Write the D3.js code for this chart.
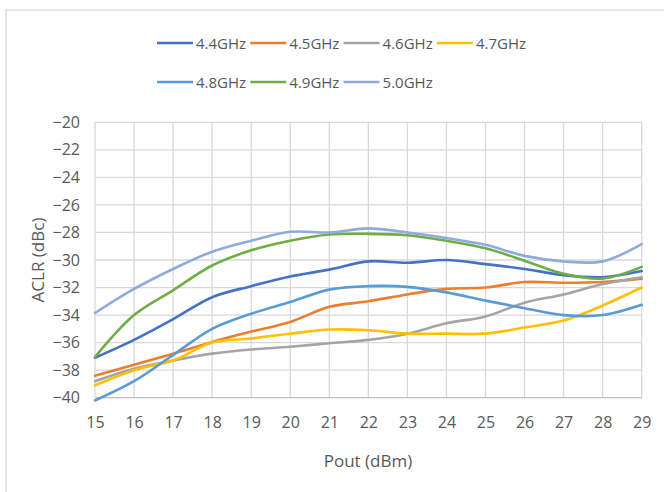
<!DOCTYPE html>
<html><head><meta charset="utf-8">
<script src="https://cdn.jsdelivr.net/npm/d3@7"></script>
<style>
html,body{margin:0;padding:0;background:#fff;}
svg{display:block;}
text{font-family:"Liberation Sans Narrow","Open Sans",sans-serif;fill:#595959;}
</style></head>
<body>
<script>
const pout = [15,16,17,18,19,20,21,22,23,24,25,26,27,28,29];
const seriesNames = ["4.4GHz","4.5GHz","4.6GHz","4.7GHz","4.8GHz","4.9GHz","5.0GHz"];
const seriesColors = ["#4472C4","#ED7D31","#A5A5A5","#FFC000","#5B9BD5","#70AD47","#8FAADC"];
const f44 = [-37.1,-35.8,-34.3,-32.7,-31.9,-31.2,-30.7,-30.1,-30.2,-30.0,-30.3,-30.65,-31.1,-31.25,-30.8];
const f45 = [-38.4,-37.6,-36.8,-35.95,-35.2,-34.5,-33.4,-33.0,-32.5,-32.1,-32.0,-31.6,-31.65,-31.6,-31.35];
const f46 = [-38.8,-37.9,-37.3,-36.8,-36.5,-36.3,-36.05,-35.8,-35.35,-34.6,-34.1,-33.1,-32.5,-31.75,-31.25];
const f47 = [-39.1,-38.0,-37.3,-36.0,-35.7,-35.35,-35.05,-35.1,-35.35,-35.35,-35.35,-34.9,-34.4,-33.3,-32.0];
const f48 = [-40.2,-38.8,-36.9,-35.0,-33.9,-33.05,-32.15,-31.9,-31.95,-32.35,-32.95,-33.5,-34.0,-34.0,-33.25];
const f49 = [-37.05,-34.0,-32.2,-30.4,-29.3,-28.6,-28.15,-28.1,-28.2,-28.6,-29.15,-30.05,-31.0,-31.35,-30.5];
const f50 = [-33.85,-32.1,-30.65,-29.4,-28.6,-27.95,-28.0,-27.7,-28.0,-28.4,-28.9,-29.7,-30.1,-30.1,-28.85];
const seriesValues = [f44,f45,f46,f47,f48,f49,f50];
const xTicks = pout;
const yTicks = [-40,-38,-36,-34,-32,-30,-28,-26,-24,-22,-20];

const W = 664, H = 492;
const svg = d3.select("body").append("svg").attr("width", W).attr("height", H);

// outer chart border
svg.append("rect").attr("x",6).attr("y",10).attr("width",W+10).attr("height",H+10)
  .attr("fill","#fff").attr("stroke","#d9d9d9").attr("stroke-width",1.3);

const x = d3.scaleLinear().domain([15,29]).range([95,641.7]);
const y = d3.scaleLinear().domain([-40,-20]).range([397.7,122.3]);

// gridlines
const g = svg.append("g");
g.selectAll("line.v").data(xTicks).join("line")
  .attr("x1",d=>x(d)).attr("x2",d=>x(d)).attr("y1",y(-20)).attr("y2",y(-40))
  .attr("stroke","#d9d9d9").attr("stroke-width",1.3);
g.selectAll("line.h").data(yTicks).join("line")
  .attr("x1",x(15)).attr("x2",x(29)).attr("y1",d=>y(d)).attr("y2",d=>y(d))
  .attr("stroke",d=>d===-40?"#bfbfbf":"#d9d9d9").attr("stroke-width",1.3);

// axes labels via d3 axes
const xAxis = svg.append("g").attr("transform",`translate(0,${y(-40)})`)
  .call(d3.axisBottom(x).tickValues(xTicks).tickSize(0).tickPadding(19).tickFormat(d3.format("d")));
xAxis.select(".domain").remove();
xAxis.selectAll("text").style("font-size","16px").attr("fill","#595959")
  .style("font-family",'"Liberation Sans Narrow","Open Sans",sans-serif');

const yAxis = svg.append("g").attr("transform",`translate(${x(15)},0)`)
  .call(d3.axisLeft(y).tickValues(yTicks).tickSize(0).tickPadding(15).tickFormat(d3.format("d")));
yAxis.select(".domain").remove();
yAxis.selectAll("text").style("font-size","16px").attr("fill","#595959")
  .style("font-family",'"Liberation Sans Narrow","Open Sans",sans-serif');

// axis titles
svg.append("text").attr("x",368).attr("y",467).attr("text-anchor","middle")
  .style("font-size","17px").text("Pout (dBm)");
svg.append("text").attr("transform","translate(44,260) rotate(-90)").attr("text-anchor","middle")
  .style("font-size","17px").text("ACLR (dBc)");

// lines
const line = d3.line().x((d,i)=>x(pout[i])).y(d=>y(d)).curve(d3.curveCatmullRom.alpha(0.5));
svg.append("g").selectAll("path").data(seriesValues).join("path")
  .attr("d",line).attr("fill","none")
  .attr("stroke",(d,i)=>seriesColors[i]).attr("stroke-width",2.6)
  .attr("stroke-linecap","round");

// legend
const legendPos = [[157,43],[250.3,43],[343.6,43],[436.9,43],[157,82],[250.3,82],[343.6,82]];
const lg = svg.append("g").selectAll("g").data(seriesNames).join("g")
  .attr("transform",(d,i)=>`translate(${legendPos[i][0]},${legendPos[i][1]})`);
lg.append("line").attr("x1",0).attr("x2",36).attr("y1",0).attr("y2",0)
  .attr("stroke",(d,i)=>seriesColors[i]).attr("stroke-width",2.6);
lg.append("text").attr("x",39).attr("y",5.5).style("font-size","15px").text(d=>d);
</script>
</body></html>
